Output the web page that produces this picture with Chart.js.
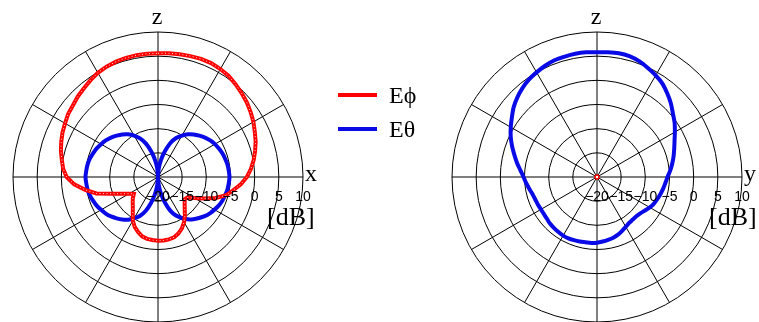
<!DOCTYPE html>
<html><head><meta charset="utf-8">
<script src="https://cdn.jsdelivr.net/npm/chart.js@4.4.1/dist/chart.umd.min.js"></script>
<style>
html,body{margin:0;padding:0;background:#fff;width:759px;height:322px;overflow:hidden;}
canvas{position:absolute;top:0;}
#c1{left:0;width:430px;height:322px;}
#c2{left:430px;width:329px;height:322px;}
</style></head><body>
<canvas id="c1" width="430" height="322"></canvas>
<canvas id="c2" width="329" height="322"></canvas>
<script>
// angle (deg) measured from +z axis, clockwise on screen
const angles = [0,5,10,15,20,25,30,35,40,45,50,55,60,65,70,75,80,85,90,95,100,105,110,115,120,125,130,135,140,145,150,155,160,165,170,175,
  180,185,190,195,200,205,210,215,220,225,230,235,240,245,250,255,260,265,270,275,280,285,290,295,300,305,310,315,320,325,330,335,340,345,350,355];

// x-z plane, E-phi [dB]
const xzEphi = [5.6,5.7,5.8,5.9,6.0,6.0,5.8,5.5,5.0,4.5,4.0,3.4,2.8,2.1,1.5,0.8,0.1,-0.7,-1.6,-2.8,-4.2,-5.4,-7.3,-9.5,-11.3,-12.6,-12.8,-12.2,-11.4,-10.3,-9.2,-8.3,-7.6,-7.1,-6.9,-6.8,
  -6.8,-6.9,-7.0,-7.3,-7.9,-8.6,-9.6,-10.9,-11.9,-12.6,-13.2,-13.9,-13.1,-11.8,-9.9,-6.8,-4.7,-2.6,-1.1,-0.3,0.2,0.8,1.3,1.8,2.2,2.7,3.0,3.5,3.9,4.4,4.9,5.2,5.4,5.5,5.6,5.6];
// x-z plane, E-theta [dB]
const xzEtheta = [-20,-18.3,-16.4,-14.5,-12.5,-11.1,-10.1,-9.2,-8.5,-7.9,-7.3,-6.8,-6.4,-6.1,-5.8,-5.6,-5.4,-5.3,-5.2,-5.3,-5.4,-5.6,-5.8,-6.1,-6.5,-6.9,-7.4,-8.0,-8.6,-9.3,-10.2,-11.2,-12.6,-14.6,-16.5,-18.4,
  -20,-18.4,-16.4,-14.5,-12.5,-11.1,-10.1,-9.2,-8.5,-7.9,-7.3,-6.8,-6.4,-6.0,-5.7,-5.4,-5.2,-5.1,-5.0,-5.1,-5.2,-5.4,-5.7,-6.0,-6.4,-6.8,-7.3,-7.9,-8.5,-9.2,-10.1,-11.2,-12.6,-14.5,-16.4,-18.3];
// y-z plane, E-theta [dB]
const yzEtheta = [5.8,5.9,6.0,5.9,5.5,4.9,4.3,3.6,2.6,1.6,0.5,-0.4,-1.4,-2.3,-3.0,-3.6,-4.2,-4.8,-5.4,-5.8,-6.1,-6.4,-6.7,-7.0,-7.4,-7.9,-8.3,-8.5,-8.5,-8.4,-8.1,-7.7,-7.3,-7.0,-6.8,-6.6,
  -6.4,-6.3,-6.3,-6.2,-6.1,-6.0,-6.0,-6.1,-6.2,-6.3,-6.5,-6.6,-6.6,-6.5,-6.4,-6.2,-5.8,-5.3,-4.8,-4.1,-3.2,-2.3,-1.3,-0.3,0.6,1.5,2.5,3.3,4.0,4.6,5.0,5.4,5.7,5.8,5.9,5.9];
// y-z plane, E-phi [dB] (below scale minimum: a dot at the centre)
const yzEphi = [-20];

const tickValues = [-20,-15,-10,-5,0,5,10];
const tickLabels = ['\u221220','\u221215','\u221210','\u22125','0','5','10'];
const legendLabels = ['E\u03d5','E\u03b8'];

const RED = '#ff0000', BLUE = '#0a0ae6';

const decoPlugin = {
  id: 'deco',
  afterDatasetsDraw(chart, args, o) {
    const ctx = chart.ctx;
    // white dotted core on the red trace
    if (o.dotted != null) {
      const pts = chart.getDatasetMeta(o.dotted).data;
      ctx.save();
      ctx.strokeStyle = 'rgba(255,255,255,0.85)';
      ctx.lineWidth = 1;
      ctx.setLineDash([1,2.5]);
      ctx.beginPath();
      pts.forEach((p,i)=>{ if(i===0) ctx.moveTo(p.x,p.y); else ctx.lineTo(p.x,p.y); });
      ctx.closePath();
      ctx.stroke();
      ctx.restore();
    }
  },
  afterDraw(chart, args, o) {
    const ctx = chart.ctx;
    const r = chart.scales.r;
    const cx = r.xCenter, cy = r.yCenter, R = r.drawingArea;
    ctx.save();
    ctx.fillStyle = '#000';
    ctx.font = '14px "Liberation Sans", Arial, sans-serif';
    ctx.textAlign = 'center';
    ctx.textBaseline = 'alphabetic';
    tickValues.forEach((v,i)=>{
      const d = r.getDistanceFromCenterForValue(v);
      ctx.fillText(tickLabels[i], cx + d, cy + 24);
    });
    ctx.font = '24px "Liberation Serif", "Times New Roman", serif';
    ctx.textAlign = 'center';
    ctx.fillText('z', cx - 1, cy - R - 8);
    ctx.textAlign = 'left';
    ctx.fillText(o.hAxis, cx + R + 2, cy + 4);
    ctx.font = '26px "Liberation Serif", "Times New Roman", serif';
    ctx.fillText('[dB]', cx + o.dbDx, cy + 48);
    if (o.legend) {
      const items = [[RED, legendLabels[0]], [BLUE, legendLabels[1]]];
      ctx.font = '24px "Liberation Serif", "Times New Roman", serif';
      items.forEach((it,i)=>{
        const y = 95 + i*34;
        ctx.strokeStyle = it[0];
        ctx.lineWidth = 4;
        ctx.beginPath(); ctx.moveTo(338,y); ctx.lineTo(377,y); ctx.stroke();
        ctx.fillStyle = '#000';
        ctx.fillText(it[1], 389, y + 8);
      });
    }
    ctx.restore();
  }
};

function opts(padding, deco) {
  return {
    responsive: false, animation: false, events: [],
    layout: { padding },
    plugins: { legend: {display:false}, tooltip:{enabled:false}, deco },
    elements: { point: { radius: 0 }, line: { borderWidth: 4, tension: 0 } },
    scales: { r: {
      min: -20, max: 10, startAngle: 0, beginAtZero: false,
      ticks: { display: false, stepSize: 5 },
      pointLabels: { display: false },
      grid: { circular: true, color: '#000', lineWidth: 1 },
      angleLines: { display: true, color: '#000', lineWidth: (c) => (c.index % 6 === 0 ? 1 : 0) }
    }}
  };
}

new Chart(document.getElementById('c1'), {
  type: 'radar',
  data: { labels: angles, datasets: [
    { label: legendLabels[0], data: xzEphi, borderColor: RED, backgroundColor: 'transparent', fill: false, tension: 0 },
    { label: legendLabels[1], data: xzEtheta, borderColor: BLUE, backgroundColor: 'transparent', fill: false, tension: 0.25 }
  ]},
  options: opts({left: 13, top: 32, right: 127, bottom: 0}, {hAxis: 'x', dbDx: 109, legend: true, dotted: 0}),
  plugins: [decoPlugin]
});

new Chart(document.getElementById('c2'), {
  type: 'radar',
  data: { labels: angles, datasets: [
    { label: legendLabels[0], data: yzEphi, borderColor: RED, backgroundColor: 'transparent', fill: false,
      pointRadius: 2, pointBorderWidth: 1.5, pointBorderColor: RED, pointBackgroundColor: '#fff' },
    { label: legendLabels[1], data: yzEtheta, borderColor: BLUE, backgroundColor: 'transparent', fill: false, tension: 0.3 }
  ]},
  options: opts({left: 22, top: 32, right: 17, bottom: 0}, {hAxis: 'y', dbDx: 112, legend: false, dotted: null}),
  plugins: [decoPlugin]
});
</script>
</body></html>
